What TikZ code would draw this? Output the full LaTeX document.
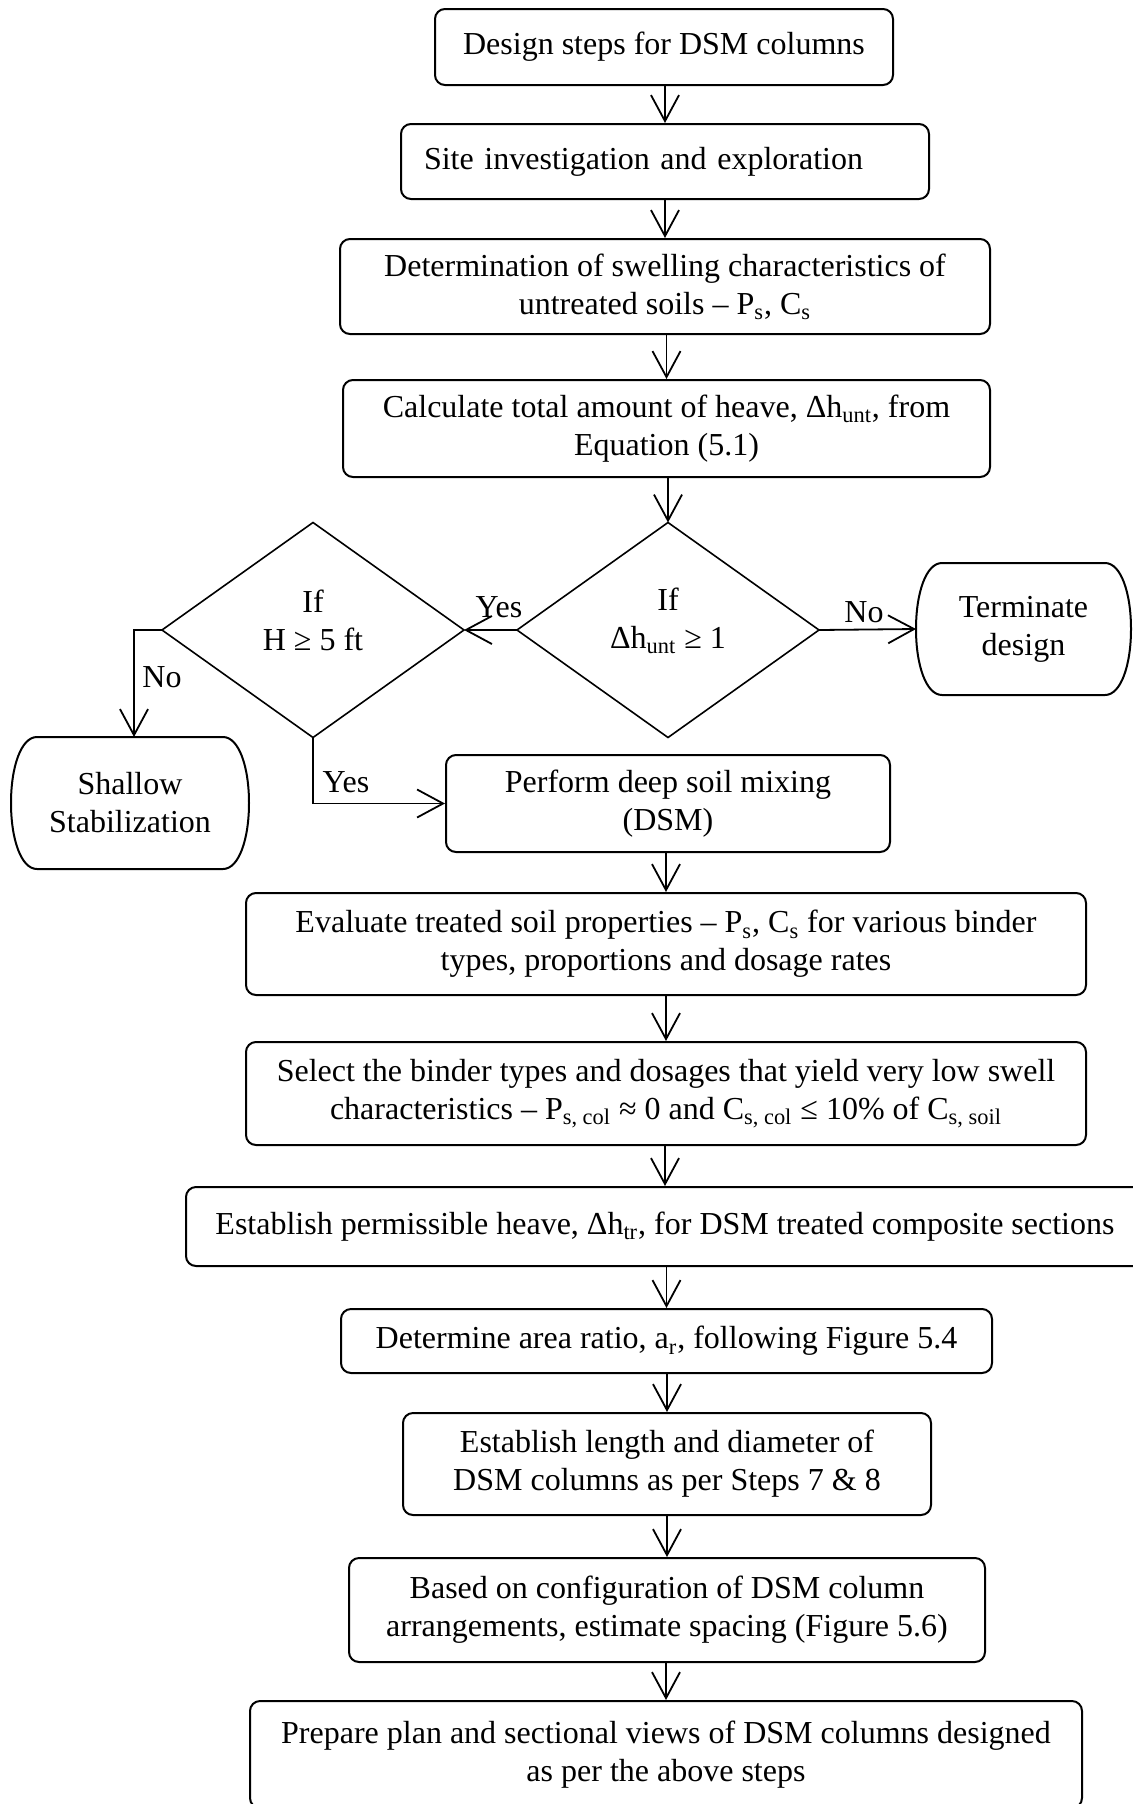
\documentclass[tikz,border=0pt]{standalone}
\usepackage{fontspec}
\setmainfont{Liberation Serif}
\usetikzlibrary{arrows.meta,shapes.geometric,calc}
\newcommand\fs{\fontsize{16}{19}\selectfont}
\newcommand\termoutline[1]{%
  \draw[line width=1pt]
    ($(#1.north west)+(13pt,0)$) -- ($(#1.north east)+(-13pt,0)$)
    .. controls ($(#1.north east)+(-5pt,0)$) and ($(#1.north east)+(0,-15pt)$) .. (#1.east)
    .. controls ($(#1.south east)+(0,15pt)$) and ($(#1.south east)+(-5pt,0)$) .. ($(#1.south east)+(-13pt,0)$)
    -- ($(#1.south west)+(13pt,0)$)
    .. controls ($(#1.south west)+(5pt,0)$) and ($(#1.south west)+(0,15pt)$) .. (#1.west)
    .. controls ($(#1.north west)+(0,-15pt)$) and ($(#1.north west)+(5pt,0)$) .. cycle;}
\tikzset{
  box/.style={draw, line width=1pt, rounded corners=5pt, align=center, inner sep=0pt, font=\fs},
  arr/.style={line width=0.9pt, -{Straight Barb[length=13pt,width=14pt,line width=0.9pt]}},
  lbl/.style={font=\fs, inner sep=0pt, align=center},
  dia/.style={draw, diamond, line width=0.8pt, inner sep=0pt, outer sep=0pt},
  termbox/.style={inner sep=0pt, outer sep=0pt, align=center, font=\fs}
}
\begin{document}
\begin{tikzpicture}[x=0.5pt,y=-0.5pt]
\useasboundingbox (0,0) rectangle (1133,1804);
\clip (0,0) rectangle (1133,1804);

\node[box, minimum width=229pt, minimum height=38pt] (design) at (664,47) {Design steps for DSM columns};
\node[box, minimum width=264pt, minimum height=37.5pt, text width=241pt, align=left, inner xsep=11.5pt] (site) at (665,161.5) {Site investigation and exploration};
\node[box, minimum width=325pt, minimum height=47.5pt] (det) at (665,286.5) {Determination of swelling characteristics of\\untreated soils – P\textsubscript{s}, C\textsubscript{s}};
\node[box, minimum width=323.5pt, minimum height=48.5pt] (calc) at (666.5,428.5) {Calculate total amount of heave, Δh\textsubscript{unt}, from\\Equation (5.1)};

\node[dia, minimum width=151pt, minimum height=107.5pt] (d1) at (668,630) {};
\node[lbl] (d1t) at (668,620.5) {If\\Δh\textsubscript{unt} ≥ 1};
\node[dia, minimum width=151pt, minimum height=107.5pt] (d2) at (313,630) {};
\node[lbl] (d2t) at (313,620.5) {If\\H ≥ 5 ft};

\node[termbox, minimum width=107.5pt, minimum height=66pt] (term) at (1023.5,629) {Terminate\\design};
\termoutline{term}
\node[termbox, minimum width=119pt, minimum height=66pt] (shallow) at (130,803) {Shallow\\Stabilization};
\termoutline{shallow}

\node[box, minimum width=222pt, minimum height=48.5pt] (dsm) at (668,803.5) {Perform deep soil mixing\\(DSM)};
\node[box, minimum width=420pt, minimum height=51pt] (eval) at (666,944) {Evaluate treated soil properties – P\textsubscript{s}, C\textsubscript{s} for various binder\\types, proportions and dosage rates};
\node[box, minimum width=420pt, minimum height=51.5pt] (select) at (666,1093.5) {Select the binder types and dosages that yield very low swell\\characteristics – P\textsubscript{s, col} ≈ 0 and C\textsubscript{s, col} ≤ 10\% of C\textsubscript{s, soil}};
\node[box, minimum width=479pt, minimum height=39.5pt] (estab) at (665,1226.5) {Establish permissible heave, Δh\textsubscript{tr}, for DSM treated composite sections};
\node[box, minimum width=325.5pt, minimum height=32pt] (area) at (666.5,1341) {Determine area ratio, a\textsubscript{r}, following Figure 5.4};
\node[box, minimum width=264pt, minimum height=51pt] (length) at (667,1464) {Establish length and diameter of\\DSM columns as per Steps 7 \& 8};
\node[box, minimum width=318pt, minimum height=52pt] (based) at (667,1610) {Based on configuration of DSM column\\arrangements, estimate spacing (Figure 5.6)};
\node[box, minimum width=416pt, minimum height=53.5pt] (prepare) at (666,1754.5) {Prepare plan and sectional views of DSM columns designed\\as per the above steps};

\draw[arr] (design.south -| site.north) -- (site.north);
\draw[arr] (site.south -| det.north) -- (det.north);
\draw[arr] (det.south -| calc.north) -- (calc.north);
\draw[arr] (calc.south -| d1.north) -- (d1.north);
\draw[arr] (d1.west) -- (d2.east);
\draw[arr] (d1.east) -- (term.west);
\draw[arr] (d2.west) -| ($(shallow.north)+(2pt,0)$);
\draw[arr] (d2.south) |- (dsm.west);
\draw[arr] (dsm.south -| eval.north) -- (eval.north);
\draw[arr] (eval.south -| select.north) -- (select.north);
\draw[arr] (select.south -| estab.north) -- (estab.north);
\draw[arr] (estab.south -| area.north) -- (area.north);
\draw[arr] (area.south -| length.north) -- (length.north);
\draw[arr] (length.south -| based.north) -- (based.north);
\draw[arr] (based.south -| prepare.north) -- (prepare.north);

\node[lbl] (yes1) at (499,607) {Yes};
\node[lbl] (no1) at (864,612) {No};
\node[lbl] (no2) at (162,677) {No};
\node[lbl] (yes2) at (346,782) {Yes};
\end{tikzpicture}
\end{document}
